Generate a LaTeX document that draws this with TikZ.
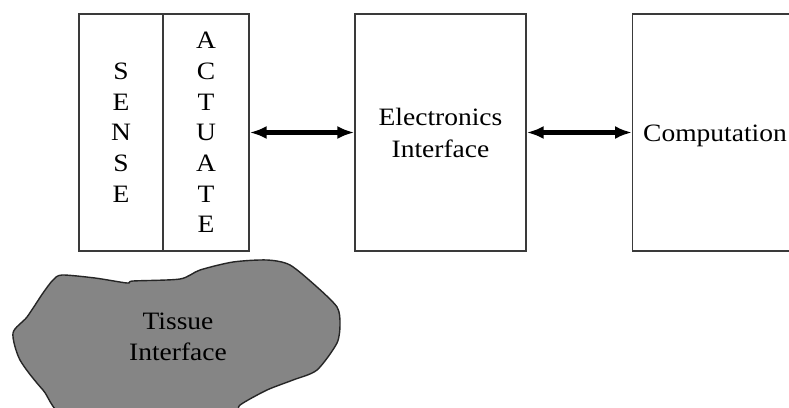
\documentclass[tikz,border=0pt]{standalone}
\usepackage{fontspec}
\newfontfamily\diagfont[FakeStretch=1.1]{Liberation Serif}
\usetikzlibrary{arrows.meta}
\definecolor{boxline}{HTML}{3A3A3A}
\definecolor{tissuefill}{HTML}{858585}
\tikzset{
  blockbox/.style={draw=boxline, line width=1.3pt, rectangle, inner sep=0pt, minimum height=237pt, align=center,
    font=\diagfont\fontsize{25}{32}\selectfont},
  letterbox/.style={blockbox, font=\diagfont\fontsize{25}{30.7}\selectfont},
  dblarrow/.style={line width=4.5pt, {Latex[length=17pt,width=13pt]}-{Latex[length=17pt,width=13pt]}},
  plaintext/.style={inner sep=0pt, align=center, font=\diagfont\fontsize{25}{31}\selectfont}
}
\begin{document}
\begin{tikzpicture}[x=1pt,y=-1pt]
\useasboundingbox (0,0) rectangle (789,407);
\clip (0,0) rectangle (789,407);
\fill[white] (0,0) rectangle (789,407);

% sense / actuate
\node[letterbox, minimum width=84pt] (sense) at (121,132.5) {S\\E\\N\\S\\E};
\node[letterbox, minimum width=86pt] (actuate) at (206,132.5) {A\\C\\T\\U\\A\\T\\E};

% electronics
\node[blockbox, minimum width=171pt] (elec) at (440.5,132.5) {Electronics\\Interface};

% computation (right edge outside picture)
\node[blockbox, minimum width=200pt, anchor=west] (comp) at (632,132.5) {};
\node[plaintext, anchor=base west] (comptext) at (643,141) {Computation};

% connectors
\draw[dblarrow] (actuate.east) -- (elec.west);
\draw[dblarrow] (elec.east) -- (comp.west);

% tissue blob
\draw[fill=tissuefill, draw=black!85, line width=1.4pt]
  plot[smooth cycle, tension=0.45] coordinates {
    (53,280) (62,275) (95,278) (127,283) (133,281) (180,279) (200,270) (233,262)
    (267,260) (290,265) (317,287) (337,307) (340,323) (337,343) (317,370) (293,380)
    (267,390) (240,405) (225,420) (75,420) (43,390) (20,360) (13,333) (27,317) (43,293)
  };
\node[plaintext] (tissue) at (178,337) {Tissue\\Interface};
\end{tikzpicture}
\end{document}
